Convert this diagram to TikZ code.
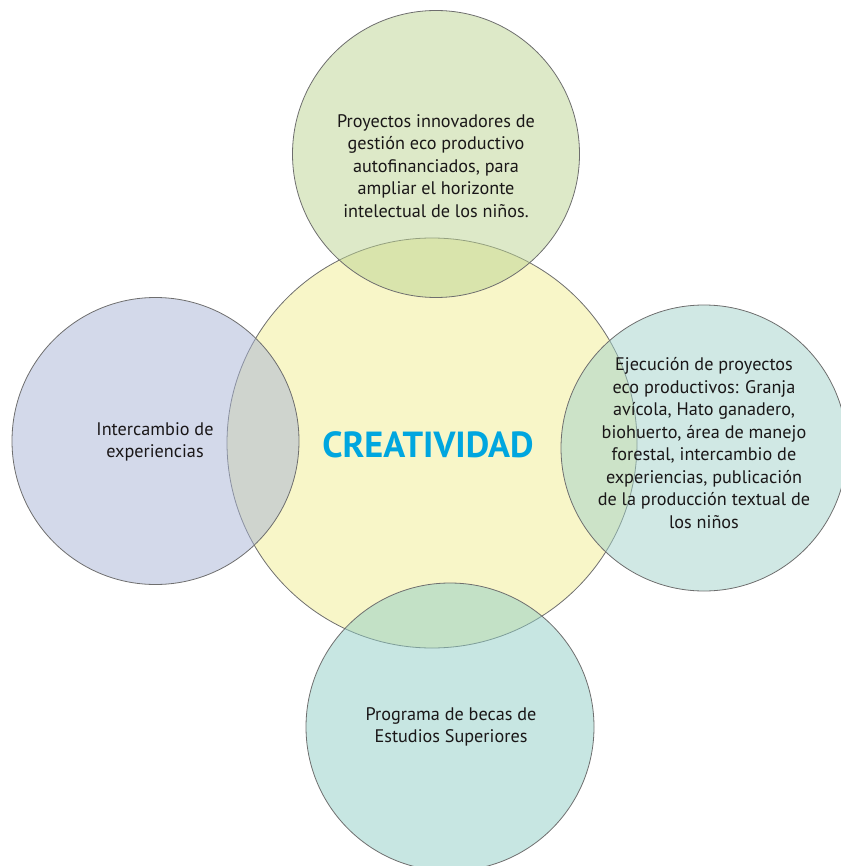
\documentclass[tikz,border=0pt]{standalone}
\usepackage{fontspec}
\setmainfont{PT Sans}
\definecolor{ring}{HTML}{6E6E6E}
\definecolor{cyel}{HTML}{F8F6C8}
\definecolor{cgreen}{HTML}{BBD391}
\definecolor{cblue}{HTML}{A7B3D5}
\definecolor{cteal}{HTML}{A1D1C9}
\definecolor{cteal2}{HTML}{8FCDC5}
\definecolor{ctitle}{HTML}{00A6DF}
\definecolor{ctext}{HTML}{1A1718}
\tikzset{
  bubble/.style={circle, draw=ring, line width=0.8pt, inner sep=0pt},
  outer/.style={bubble, fill opacity=0.5, draw opacity=1},
  label/.style={align=center, text=ctext, font=\fontsize{18.2}{22.5}\selectfont, inner sep=0pt},
}
\begin{document}
\begin{tikzpicture}[x=1pt,y=-1pt]
\useasboundingbox (0,0) rectangle (840,866);
\node[bubble, fill=cyel, minimum size=410pt] (core) at (432,443) {};
\node[outer, fill=cgreen, minimum size=287pt] (top) at (436,154) {};
\node[outer, fill=cblue, minimum size=287pt] (left) at (155.5,441) {};
\node[outer, fill=cteal, minimum size=286pt] (right) at (704,448) {};
\node[outer, fill=cteal2, minimum size=288pt] (bottom) at (450,727) {};
\node[font=\fontsize{36.3}{40}\selectfont\bfseries, text=ctitle, inner sep=0pt] (title) at (428,445) {CREATIVIDAD};
\node[label] (ttop) at (436,166) {Proyectos innovadores de\\gestión eco productivo\\autofinanciados, para\\ampliar el horizonte\\intelectual de los niños.};
\node[label] (tleft) at (155,442) {Intercambio de\\experiencias};
\node[label] (tright) at (704,443) {Ejecución de proyectos\\eco productivos: Granja\\avícola, Hato ganadero,\\biohuerto, área de manejo\\forestal, intercambio de\\experiencias, publicación\\de la producción textual de\\los niños};
\node[label] (tbottom) at (451,727) {Programa de becas de\\Estudios Superiores};
\end{tikzpicture}
\end{document}
